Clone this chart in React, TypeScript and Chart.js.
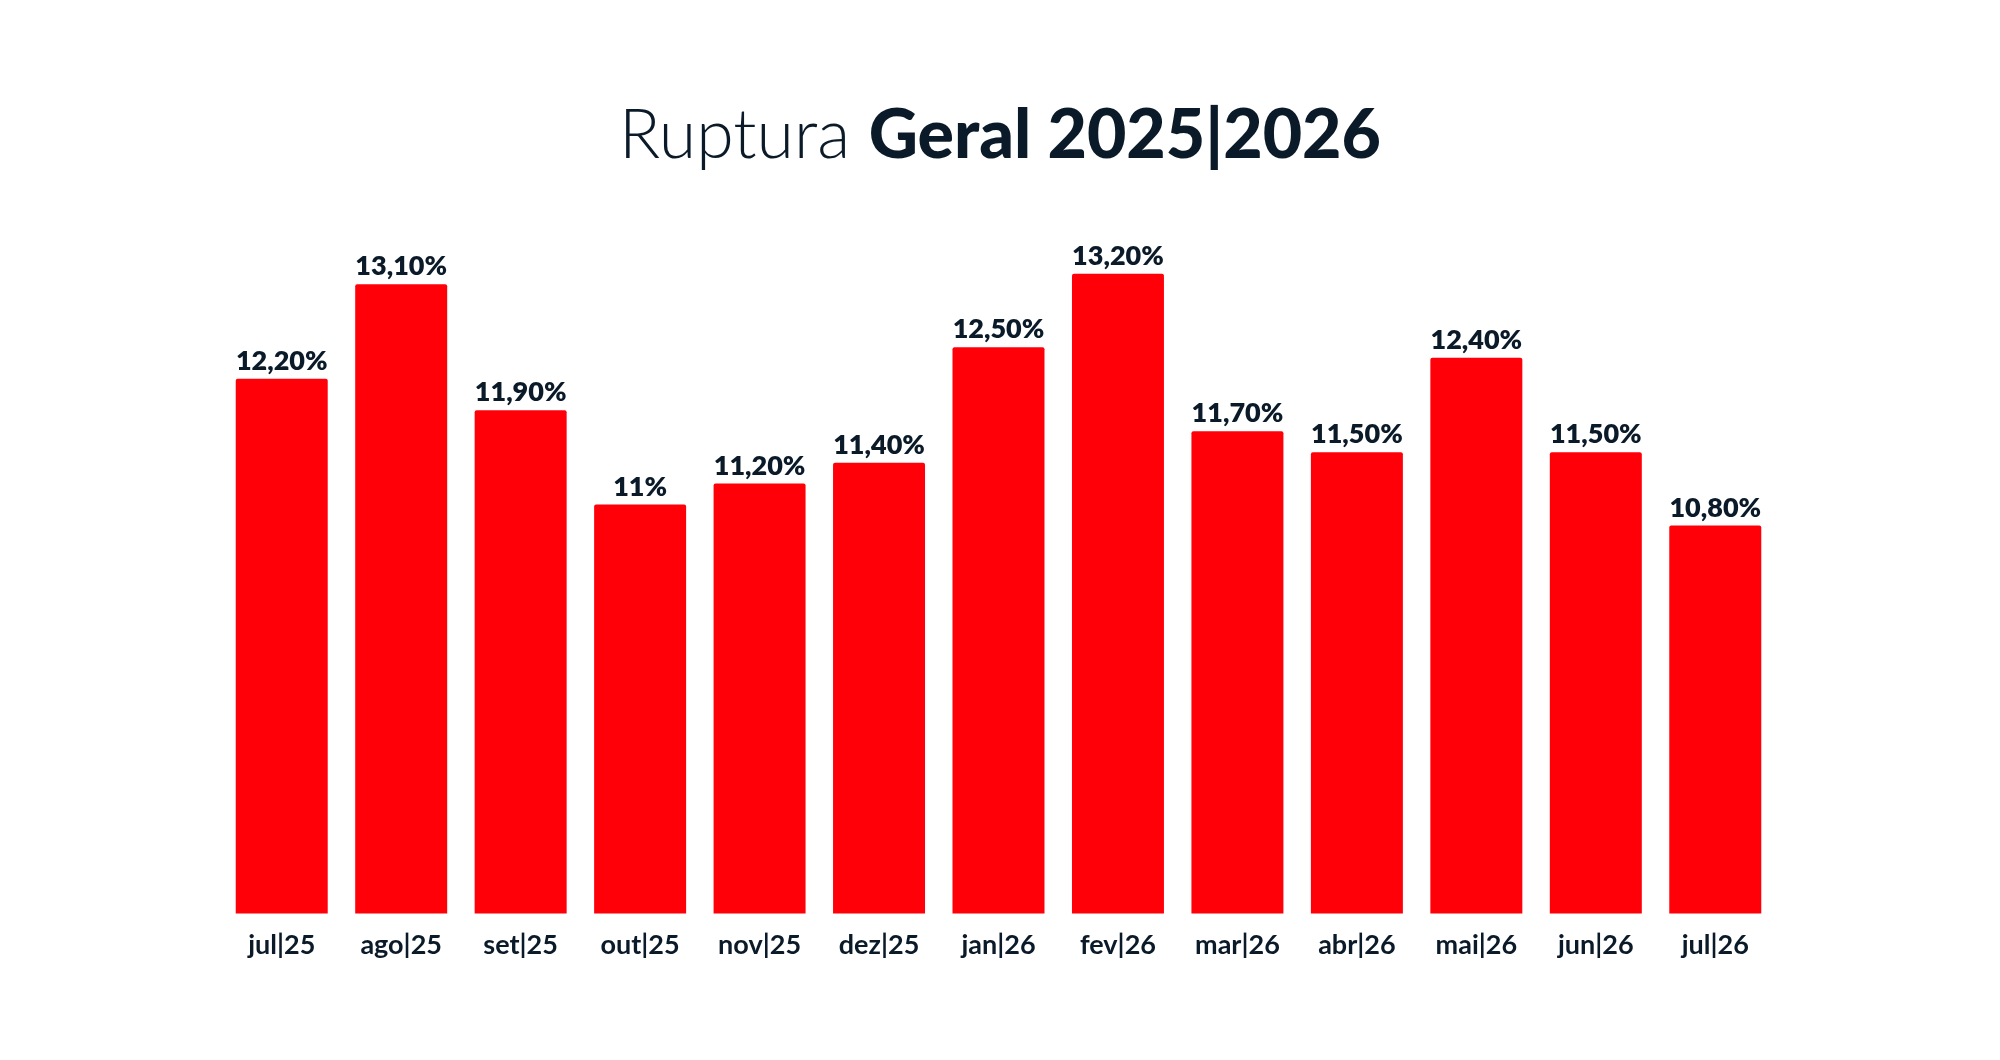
import { useEffect, useRef } from 'react';
import { Chart, registerables } from 'chart.js';

Chart.register(...registerables);

// ============= DATA =============
const months = ['jul|25', 'ago|25', 'set|25', 'out|25', 'nov|25', 'dez|25', 'jan|26', 'fev|26', 'mar|26', 'abr|26', 'mai|26', 'jun|26', 'jul|26'];
const ruptura = [12.2, 13.1, 11.9, 11.0, 11.2, 11.4, 12.5, 13.2, 11.7, 11.5, 12.4, 11.5, 10.8];
const valueLabels = ['12,20%', '13,10%', '11,90%', '11%', '11,20%', '11,40%', '12,50%', '13,20%', '11,70%', '11,50%', '12,40%', '11,50%', '10,80%'];

const RED = '#ff0009';
const NAVY = '#0b1a29';

// draws the percentage above every bar
const valueLabelPlugin = {
    id: 'valueLabels',
    afterDatasetsDraw(chart: any) {
        const ctx = chart.ctx;
        const meta = chart.getDatasetMeta(0);
        ctx.save();
        ctx.fillStyle = NAVY;
        ctx.font = '800 27px Lato';
        ctx.textAlign = 'center';
        ctx.textBaseline = 'alphabetic';
        meta.data.forEach((bar: any, i: number) => {
            ctx.fillText(valueLabels[i], bar.x, bar.y - 9);
        });
        ctx.restore();
    }
};

const App = () => {
    const chartRef = useRef<HTMLCanvasElement>(null);
    const chartInstance = useRef<Chart | null>(null);

    useEffect(() => {
        document.body.style.margin = '0';
        if (!chartRef.current) return;
        if (chartInstance.current) chartInstance.current.destroy();

        const ctx = chartRef.current.getContext('2d');
        if (!ctx) return;

        chartInstance.current = new Chart(ctx, {
            type: 'bar',
            data: {
                labels: months,
                datasets: [{
                    data: ruptura,
                    backgroundColor: RED,
                    borderWidth: 0,
                    borderRadius: 2,
                    borderSkipped: false,
                    barPercentage: 0.77,
                    categoryPercentage: 1
                }]
            },
            options: {
                responsive: false,
                animation: false,
                layout: {
                    padding: { left: 222, right: 225, top: 169, bottom: 92 }
                },
                plugins: {
                    legend: { display: false },
                    tooltip: { enabled: false }
                },
                scales: {
                    y: {
                        display: false,
                        min: 7.1,
                        max: 14.2
                    },
                    x: {
                        grid: { display: false },
                        border: { display: false },
                        ticks: {
                            color: NAVY,
                            padding: 7,
                            font: { family: 'Lato', size: 27, weight: 'bold' }
                        }
                    }
                }
            },
            plugins: [valueLabelPlugin]
        });

        return () => {
            if (chartInstance.current) {
                chartInstance.current.destroy();
                chartInstance.current = null;
            }
        };
    }, []);

    return (
        <div style={{ position: 'relative', width: 2000, height: 1060, background: '#ffffff' }}>
            <div style={{
                position: 'absolute', left: 0, width: 2000, top: 87, textAlign: 'center',
                fontFamily: 'Lato', fontSize: 68, color: NAVY, lineHeight: '90px'
            }}>
                <span style={{ fontWeight: 300 }}>Ruptura </span>
                <span style={{ fontWeight: 900 }}>Geral 2025|2026</span>
            </div>
            <canvas ref={chartRef} width={2000} height={1060} style={{ position: 'absolute', left: 0, top: 0 }}></canvas>
        </div>
    );
};

export default App;
